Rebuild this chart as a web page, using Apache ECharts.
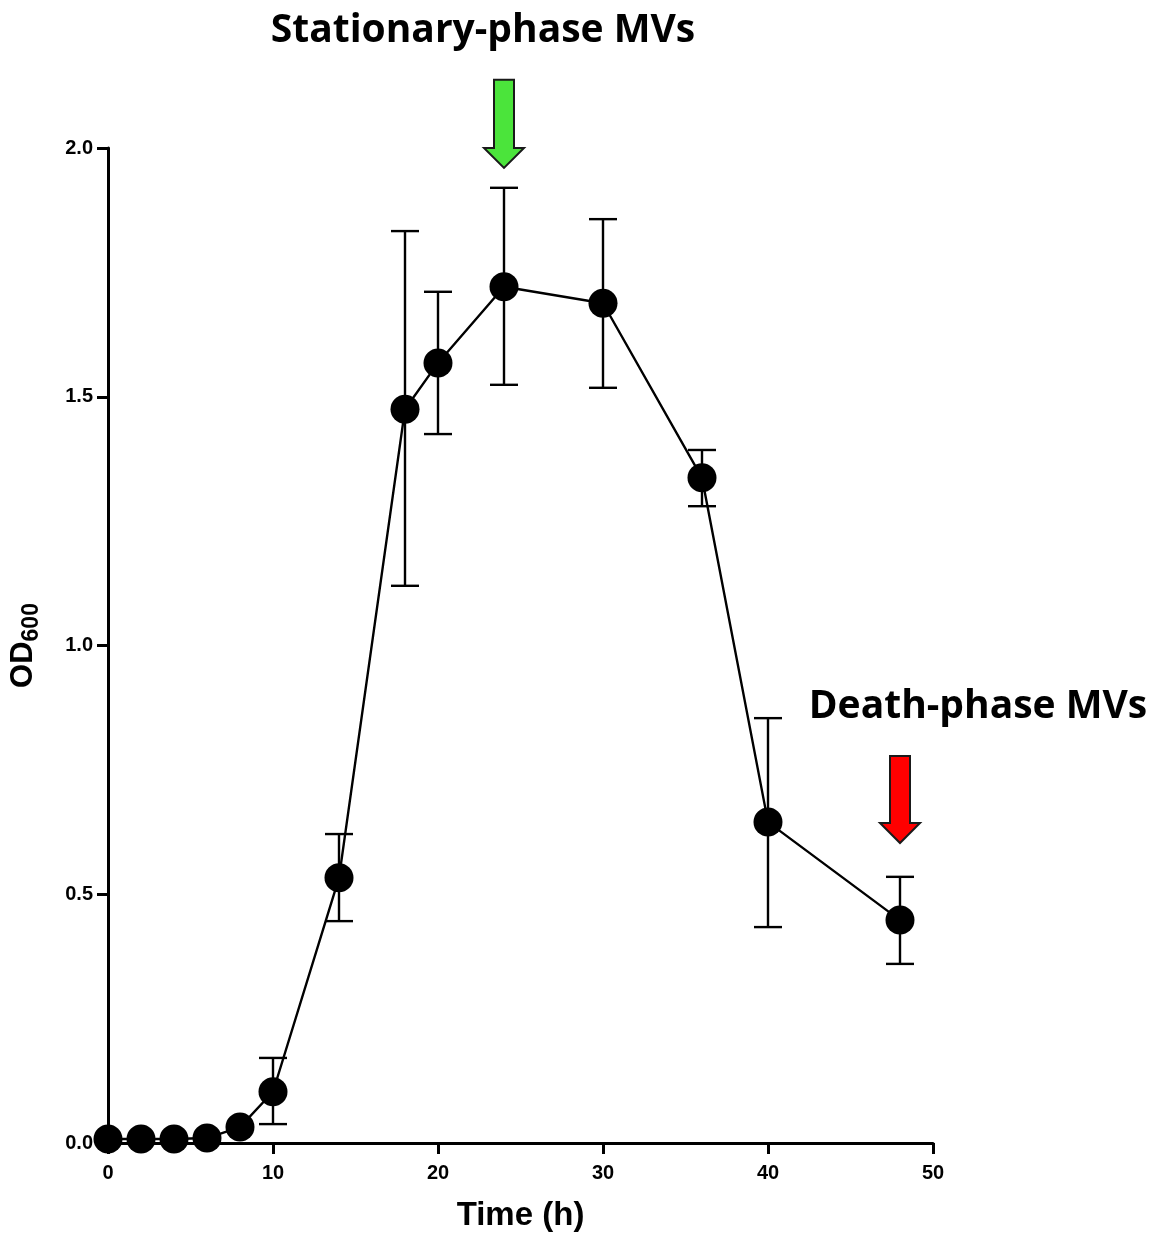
<!DOCTYPE html>
<html>
<head>
<meta charset="utf-8">
<script src="https://cdn.jsdelivr.net/npm/echarts@6/dist/echarts.min.js"></script>
<style>
html,body{margin:0;padding:0;background:#fff;}
#chart{width:1158px;height:1236px;}
</style>
</head>
<body>
<div id="chart"></div>
<script>
// ---- data ----
const times   = [0, 2, 4, 6, 8, 10, 14, 18, 20, 24, 30, 36, 40, 48];
const od600   = [0.008, 0.008, 0.008, 0.010, 0.032, 0.103, 0.533, 1.475, 1.568, 1.721, 1.688, 1.337, 0.645, 0.448];
const errLow  = [null, null, null, null, null, 0.038, 0.446, 1.120, 1.425, 1.524, 1.518, 1.280, 0.434, 0.360];
const errHigh = [null, null, null, null, null, 0.171, 0.621, 1.833, 1.711, 1.920, 1.857, 1.393, 0.854, 0.535];
const xTicks  = [0, 10, 20, 30, 40, 50];
const yTicks  = [0.0, 0.5, 1.0, 1.5, 2.0];
// annotation arrows: x position, top of shaft, tip (in data units)
const arrowX    = [24, 48];
const arrowTop  = [2.137, 0.778];
const arrowTip  = [1.960, 0.603];
const arrowFill = ['#4BE43B', '#FF0000'];
const annotationTexts = ['Stationary-phase MVs', 'Death-phase MVs'];

const points = times.map((t, i) => [t, od600[i]]);
const errData = [];
times.forEach((t, i) => { if (errLow[i] != null) errData.push([t, errLow[i], errHigh[i]]); });
const arrowData = arrowX.map((x, i) => [x, arrowTop[i], arrowTip[i], i]);

const chart = echarts.init(document.getElementById('chart'));
const axisFont = 'Liberation Sans, Arial, sans-serif';
const annFont = 'Open Sans';

chart.setOption({
  backgroundColor: '#fff',
  animation: false,
  title: [
    { text: annotationTexts[0], left: 478, top: 6, textAlign: 'center',
      textStyle: { fontFamily: annFont, fontWeight: 'bold', fontSize: 39, color: '#000' } },
    { text: annotationTexts[1], left: 973, top: 682, textAlign: 'center',
      textStyle: { fontFamily: annFont, fontWeight: 'bold', fontSize: 39, color: '#000' } }
  ],
  grid: { left: 108, right: 225, top: 148, bottom: 93, containLabel: false, outerBoundsMode: 'none' },
  xAxis: {
    type: 'value', min: xTicks[0], max: xTicks[xTicks.length - 1], interval: 10,
    name: 'Time (h)', nameLocation: 'middle', nameGap: 56,
    nameTextStyle: { fontFamily: axisFont, fontWeight: 'bold', fontSize: 33, color: '#000' },
    axisLine: { show: true, onZero: false, lineStyle: { color: '#000', width: 3 } },
    axisTick: { show: true, length: 11, lineStyle: { color: '#000', width: 3 } },
    axisLabel: { margin: 20, fontFamily: axisFont, fontWeight: 'bold', fontSize: 20, color: '#000' },
    splitLine: { show: false }
  },
  yAxis: {
    type: 'value', min: yTicks[0], max: yTicks[yTicks.length - 1], interval: 0.5,
    name: '{a|OD}{b|600}', nameLocation: 'middle', nameGap: 63, nameRotate: 90,
    nameTextStyle: {
      rich: {
        a: { fontFamily: axisFont, fontWeight: 'bold', fontSize: 31, color: '#000', lineHeight: 44, verticalAlign: 'middle' },
        b: { fontFamily: axisFont, fontWeight: 'bold', fontSize: 23, color: '#000', lineHeight: 44, verticalAlign: 'middle', padding: [18, 0, 0, 0] }
      }
    },
    axisLine: { show: true, onZero: false, lineStyle: { color: '#000', width: 3 } },
    axisTick: { show: true, length: 11, lineStyle: { color: '#000', width: 3 } },
    axisLabel: { margin: 15, fontFamily: axisFont, fontWeight: 'bold', fontSize: 20, color: '#000',
      formatter: v => v.toFixed(1) },
    splitLine: { show: false }
  },
  series: [
    {
      type: 'custom', name: 'error', data: errData, z: 2,
      renderItem: function (params, api) {
        const x = api.value(0);
        const lo = api.coord([x, api.value(1)]);
        const hi = api.coord([x, api.value(2)]);
        const hw = 14;
        const style = { stroke: '#000', lineWidth: 2.4, fill: null };
        return { type: 'group', children: [
          { type: 'line', shape: { x1: lo[0], y1: lo[1], x2: hi[0], y2: hi[1] }, style },
          { type: 'line', shape: { x1: lo[0] - hw, y1: lo[1], x2: lo[0] + hw, y2: lo[1] }, style },
          { type: 'line', shape: { x1: hi[0] - hw, y1: hi[1], x2: hi[0] + hw, y2: hi[1] }, style }
        ]};
      }
    },
    {
      type: 'line', name: 'OD600', data: points, z: 3,
      symbol: 'circle', symbolSize: 29,
      lineStyle: { color: '#000', width: 2.4 },
      itemStyle: { color: '#000' }
    },
    {
      type: 'custom', name: 'arrows', data: arrowData, z: 4, clip: false,
      renderItem: function (params, api) {
        const x = api.value(0);
        const top = api.coord([x, api.value(1)]);
        const tip = api.coord([x, api.value(2)]);
        const cx = top[0];
        const sw = 10, hw = 20, hl = 20;
        const hy = tip[1] - hl;
        const pts = [
          [cx - sw, top[1]], [cx + sw, top[1]], [cx + sw, hy], [cx + hw, hy],
          [cx, tip[1]], [cx - hw, hy], [cx - sw, hy]
        ];
        return { type: 'polygon', shape: { points: pts },
          style: { fill: arrowFill[api.value(3)], stroke: '#1a1a1a', lineWidth: 2 } };
      }
    }
  ]
});
</script>
</body>
</html>
